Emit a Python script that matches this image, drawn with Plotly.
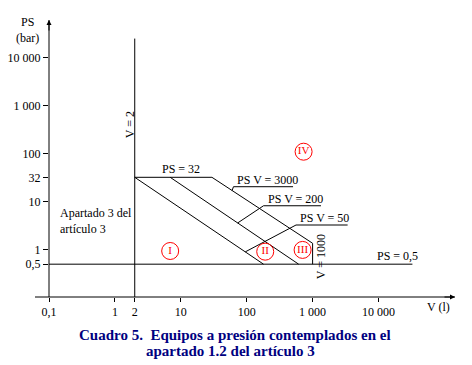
import math
import plotly.graph_objects as go

# ---- data ----
V_ticks = [0.1, 1, 2, 10, 100, 1000, 10000]
V_tick_labels = ["0,1", "1", "2", "10", "100", "1 000", "10 000"]
PS_ticks = [0.5, 1, 10, 32, 100, 1000, 10000]
PS_tick_labels = ["0,5", "1", "10", "32", "100", "1 000", "10 000"]

# boundary lines (V in litres, PS in bar)
v2_V = [2, 2]
v2_PS = [0.1, 24500]
ps05_V = [0.1, 32700]
ps05_PS = [0.5, 0.5]
ps32_V = [2, 29.7]
ps32_PS = [32, 32]
psv50_V = [2, 180]
psv50_PS = [32, 0.5]
psv200_V = [6.9, 614]
psv200_PS = [32, 0.5]
psv3000_V = [29.7, 1000, 1000]
psv3000_PS = [32, 1.36, 0.5]

# leader lines for the PS·V labels (point on curve, underline start, underline end)
lead3000_V = [60, 63, 505]
lead3000_PS = [17, 20.4, 20.4]
lead200_V = [73, 180, 1340]
lead200_PS = [3.6, 8.2, 8.2]
lead50_V = [95, 560, 3400]
lead50_PS = [0.9, 3.26, 3.26]
lead_texts = ["PS V = 3000", "PS V = 200", "PS V = 50"]

# region markers
region_labels = ["I", "II", "III", "IV"]
region_V = [6.9, 191, 705, 730]
region_PS = [0.94, 0.91, 0.99, 109]

SERIF = "Liberation Serif, Times New Roman, serif"
BLACK = "#000000"

fig = go.Figure()

def line(xs, ys):
    fig.add_trace(go.Scatter(x=xs, y=ys, mode="lines",
                             line=dict(color=BLACK, width=1),
                             hoverinfo="skip", showlegend=False))

for xs, ys in [(v2_V, v2_PS), (ps05_V, ps05_PS), (ps32_V, ps32_PS),
               (psv50_V, psv50_PS), (psv200_V, psv200_PS), (psv3000_V, psv3000_PS),
               (lead3000_V, lead3000_PS), (lead200_V, lead200_PS), (lead50_V, lead50_PS)]:
    line(xs, ys)

fig.add_trace(go.Scatter(
    x=region_V, y=region_PS, mode="markers+text", text=region_labels,
    textposition="middle center",
    textfont=dict(family=SERIF, size=11, color="#ff0000"),
    marker=dict(symbol="circle-open", size=17, color="#ff0000",
                line=dict(color="#ff0000", width=1)),
    hoverinfo="skip", showlegend=False))

ann = []
def t(text, V, PS, **kw):
    d = dict(text=text, x=math.log10(V), y=math.log10(PS), xref="x", yref="y",
             showarrow=False, font=dict(family=SERIF, size=12, color=BLACK))
    d.update(kw)
    ann.append(d)

# PS·V labels sitting on their underlines
for txt, vs, ps in zip(lead_texts, [lead3000_V, lead200_V, lead50_V],
                       [lead3000_PS, lead200_PS, lead50_PS]):
    t(txt, vs[1], ps[1], xanchor="left", yanchor="bottom", xshift=2, yshift=-2)

t("PS = 32", 10.2, 32, xanchor="center", yanchor="bottom", yshift=-1)
t("PS = 0,5", 19300, 0.5, xanchor="center", yanchor="bottom", yshift=-1)
t("Apartado 3 del<br>artículo 3", 0.138, 3.95, xanchor="left", yanchor="middle", align="left")
t("V = 2", 1.71, 391, textangle=-90)
t("V = 1000", 1352, 0.705, textangle=-90)

# page offset (browser body margin) and plot-area geometry in window pixels
OFF = 8
PW, PH = 406.0, 277.0
def px(xp):
    return (xp - 49) / PW
def py(yp):
    return (297 - yp) / PH

def p(text, x, y, **kw):
    d = dict(text=text, x=x, y=y, xref="paper", yref="paper", showarrow=False,
             xanchor="center", yanchor="middle",
             font=dict(family=SERIF, size=12, color=BLACK))
    d.update(kw)
    ann.append(d)

p("PS<br>(bar)", px(27), py(29.5))
p("V (l)", px(438), py(307))
p("<b>Cuadro 5.  Equipos a presión contemplados en el</b>", px(234.5), py(335),
  font=dict(family=SERIF, size=15, color="#000080"))
p("<b>apartado 1.2 del artículo 3</b>", px(230), py(351),
  font=dict(family=SERIF, size=15, color="#000080"))

# axis arrowheads
ann.append(dict(x=1, y=0, xref="paper", yref="paper", ax=-12, ay=0, axref="pixel",
                ayref="pixel", text="", showarrow=True, arrowhead=2, arrowsize=1,
                arrowwidth=1, arrowcolor=BLACK))
ann.append(dict(x=0, y=1, xref="paper", yref="paper", ax=0, ay=12, axref="pixel",
                ayref="pixel", text="", showarrow=True, arrowhead=2, arrowsize=1,
                arrowwidth=1, arrowcolor=BLACK))

shapes = [
    dict(type="line", xref="paper", yref="paper", x0=px(35), x1=1, y0=0, y1=0,
         line=dict(color=BLACK, width=1)),
    dict(type="line", xref="paper", yref="paper", x0=0, x1=0, y0=0, y1=1,
         line=dict(color=BLACK, width=1)),
]

fig.update_layout(
    width=472 - OFF, height=365 - OFF,
    margin=dict(l=49 - OFF, r=17, t=20 - OFF, b=68, autoexpand=False),
    paper_bgcolor="white", plot_bgcolor="white",
    annotations=ann, shapes=shapes,
    font=dict(family=SERIF, size=12, color=BLACK),
    xaxis=dict(type="log", range=[-1, -1 + PW / 65.9], tickvals=V_ticks,
               ticktext=V_tick_labels, ticks="outside", ticklen=4, tickcolor=BLACK,
               showgrid=False, zeroline=False, showline=False, automargin=False,
               tickfont=dict(family=SERIF, size=12, color=BLACK)),
    yaxis=dict(type="log", range=[(249.7 - 297) / 48.1, (249.7 - 20) / 48.1],
               tickvals=PS_ticks, ticktext=PS_tick_labels, ticks="outside", ticklen=5,
               tickcolor=BLACK, showgrid=False, zeroline=False, showline=False,
               automargin=False,
               tickfont=dict(family=SERIF, size=12, color=BLACK)),
)

fig.write_html("out.html")
